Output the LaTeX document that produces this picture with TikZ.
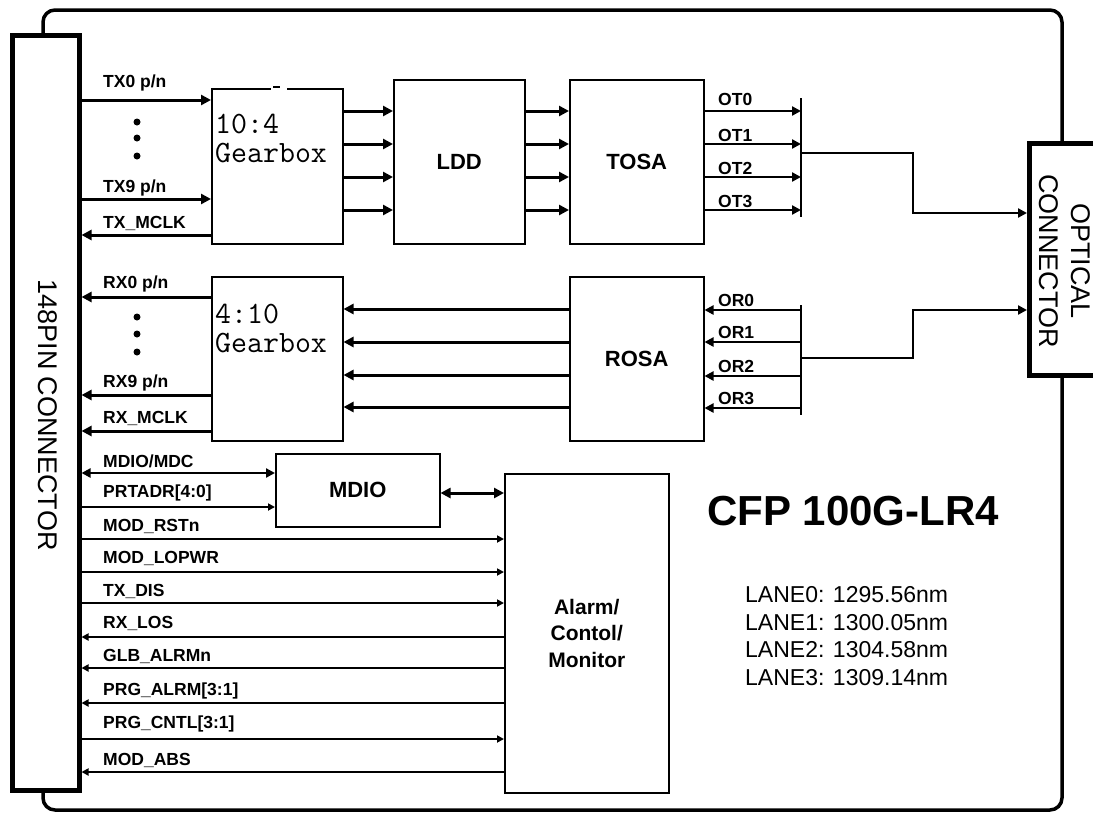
\documentclass[tikz,border=0pt]{standalone}
\usepackage{fontspec}
\setmainfont{Liberation Sans}
\usetikzlibrary{arrows.meta,positioning}

\begin{document}
\begin{tikzpicture}[x=1pt,y=-1pt,
  blk/.style={draw,line width=1.5pt,fill=white,inner sep=0pt,anchor=north west,
    font=\fontsize{22}{26}\selectfont\bfseries},
  gearlbl/.style={inner sep=0pt,anchor=north west,align=left,
    font=\fontsize{31}{29}\ttfamily\addfontfeature{FakeBold=1}},
  pinlbl/.style={inner sep=0pt,anchor=base west,font=\fontsize{17.5}{20}\selectfont\bfseries},
  bus/.style={line width=3pt,-{Triangle[length=10pt,width=10pt]}},
  busback/.style={line width=3pt,{Triangle[length=10pt,width=10pt]}-},
  lane/.style={line width=2.3pt,-{Triangle[length=9pt,width=9pt]}},
  sigin/.style={line width=1.8pt,-{Triangle[length=7pt,width=7pt]}},
  sigout/.style={line width=1.8pt,{Triangle[length=7pt,width=7pt]}-},
  bar/.style={line width=1.5pt}
]
\useasboundingbox (0,0) rectangle (1093,814);

% module outline and connectors
\node[draw,line width=3.5pt,rounded corners=12pt,minimum width=1019pt,
  minimum height=800pt,inner sep=0pt] (module) at (552.5,410) {};
\node[draw,line width=5pt,fill=white,minimum width=67pt,minimum height=755pt,
  inner sep=0pt] (conn) at (45.5,412.5) {};
\node[rotate=-90,inner sep=0pt,font=\fontsize{27}{30}\selectfont] (connlbl)
  at (48,415) {148PIN CONNECTOR};
\node[draw,line width=5pt,fill=white,minimum width=80.5pt,minimum height=231.5pt,
  inner sep=0pt] (optconn) at (1069.75,259.25) {};
\node[rotate=-90,inner sep=0pt,align=center,font=\fontsize{27}{32}\selectfont]
  (optlbl) at (1065,261) {OPTICAL\\CONNECTOR};

% function blocks
\node[blk,minimum width=131pt,minimum height=155pt] (gbtx) at (211,88) {};
\node[gearlbl] (gbtxlbl) at (215,114) {10:4\\Gearbox};
\draw[white,line width=3pt] (271,88) -- (287,88);
\draw[line width=1.5pt] (273,87) -- (280,87);
\node[blk,minimum width=131pt,minimum height=164pt] (ldd) at (393,79) {};
\node[font=\fontsize{22}{26}\selectfont\bfseries] at (ldd.center) {LDD};
\node[blk,minimum width=134pt,minimum height=164pt] (tosa) at (569,79) {};
\node[font=\fontsize{22}{26}\selectfont\bfseries] at (tosa.center) {TOSA};
\node[blk,minimum width=131pt,minimum height=164pt] (gbrx) at (211,276) {};
\node[gearlbl] (gbrxlbl) at (215,304) {4:10\\Gearbox};
\node[blk,minimum width=134pt,minimum height=164pt] (rosa) at (569,276) {};
\node[font=\fontsize{22}{26}\selectfont\bfseries] at (rosa.center) {ROSA};
\node[blk,minimum width=164pt,minimum height=73pt] (mdio) at (275,453) {};
\node[font=\fontsize{22}{26}\selectfont\bfseries] at (mdio.center) {MDIO};
\node[blk,minimum width=164pt,minimum height=319pt,align=center,
  font=\fontsize{21}{26.5}\selectfont\bfseries] (alarm) at (504,473) {};
\node[align=center,font=\fontsize{21}{26.5}\selectfont\bfseries] at (alarm.center)
  {Alarm/\\Contol/\\Monitor};

% TX path
\draw[bus] (conn.east|-0,100) -- (gbtx.west|-0,100);
\draw[bus] (conn.east|-0,199) -- (gbtx.west|-0,199);
\draw[busback] (conn.east|-0,235) -- (gbtx.west|-0,235);
\node[pinlbl] (tx0) at (103,87) {TX0 p/n};
\node[pinlbl] (tx9) at (103,192) {TX9 p/n};
\node[pinlbl] (txclk) at (103,228) {TX\_MCLK};
\foreach \y in {111,144,177,210} {
  \draw[bus] (gbtx.east|-0,\y) -- (ldd.west|-0,\y);
  \draw[bus] (ldd.east|-0,\y) -- (tosa.west|-0,\y);
}
\coordinate (ottop) at (801,98);
\coordinate (otbot) at (801,217);
\draw[bar] (ottop) -- (otbot);
\foreach \y/\b/\n in {111/105/0,144/141/1,177/174/2,210/207/3} {
  \draw[lane] (tosa.east|-0,\y) -- (ottop|-0,\y);
  \node[pinlbl] (ot\n) at (718,\b) {OT\n};
}
\draw[lane] (ottop|-0,153) -- (913,153) |- (optconn.west|-0,213);

% RX path
\draw[busback] (conn.east|-0,297) -- (gbrx.west|-0,297);
\draw[busback] (conn.east|-0,395) -- (gbrx.west|-0,395);
\draw[busback] (conn.east|-0,431) -- (gbrx.west|-0,431);
\node[pinlbl] (rx0) at (103,288) {RX0 p/n};
\node[pinlbl] (rx9) at (103,387) {RX9 p/n};
\node[pinlbl] (rxclk) at (103,423) {RX\_MCLK};
\foreach \y in {309,342,375,407}
  \draw[busback] (gbrx.east|-0,\y) -- (rosa.west|-0,\y);
\coordinate (ortop) at (801,305);
\coordinate (orbot) at (801,415);
\draw[bar] (ortop) -- (orbot);
\foreach \y/\b/\n in {310/306/0,342/338/1,376/372/2,408/404/3} {
  \draw[lane,{Triangle[length=9pt,width=9pt]}-] (rosa.east|-0,\y) -- (ortop|-0,\y);
  \node[pinlbl] (or\n) at (718,\b) {OR\n};
}
\draw[lane] (ortop|-0,358) -- (913,358) |- (optconn.west|-0,310);

\foreach \y in {122,138,156,317,334,352}
  \fill (137,\y) circle (3.5pt);

% management interface
\draw[line width=2.5pt,{Triangle[length=9pt,width=9pt]}-{Triangle[length=9pt,width=9pt]}]
  (conn.east|-0,473) -- (mdio.west|-0,473);
\draw[sigin,line width=2pt] (conn.east|-0,507) -- (mdio.west|-0,507);
\draw[line width=3pt,{Triangle[length=10pt,width=10pt]}-{Triangle[length=10pt,width=10pt]}]
  (mdio.east|-0,493) -- (alarm.west|-0,493);
\node[pinlbl] (mdc) at (103,467) {MDIO/MDC};
\node[pinlbl] (prtadr) at (103,497) {PRTADR[4:0]};
\foreach \y/\b/\txt/\sty in {539/531/MOD\_RSTn/sigin,572/563/MOD\_LOPWR/sigin,
    603/596/TX\_DIS/sigin,637/628/RX\_LOS/sigout,668/661/GLB\_ALRMn/sigout,
    703/695/PRG\_ALRM[3:1]/sigout,739/728/PRG\_CNTL[3:1]/sigin,772/765/MOD\_ABS/sigout} {
  \draw[\sty] (conn.east|-0,\y) -- (alarm.west|-0,\y);
  \node[pinlbl] (sig\y) at (103,\b) {\txt};
}

% product name and wavelengths
\node[anchor=base west,inner sep=0pt,font=\fontsize{42}{48}\selectfont\bfseries]
  (title) at (707,525) {CFP 100G-LR4};
\node[anchor=north west,inner sep=0pt,align=left,font=\fontsize{23}{27.5}\selectfont]
  (lanes) at (745,586.5) {LANE0: 1295.56nm\\LANE1: 1300.05nm\\LANE2: 1304.58nm\\LANE3: 1309.14nm};
\end{tikzpicture}
\end{document}
